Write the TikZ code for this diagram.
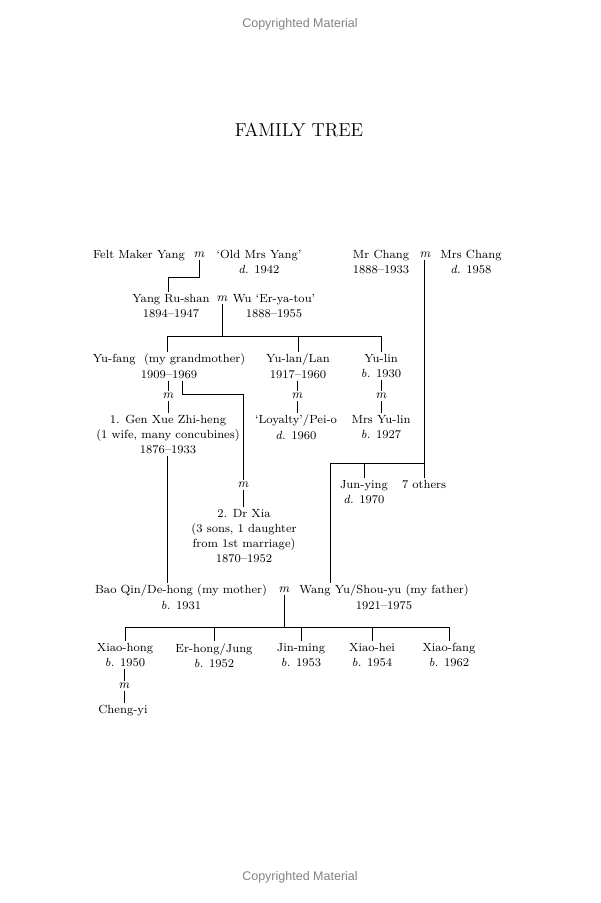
\documentclass[tikz,border=0pt]{standalone}
\usepackage{fontspec}
\newfontfamily\wmfont{Liberation Sans}
\usetikzlibrary{positioning}
\definecolor{wmgray}{RGB}{130,130,130}
\tikzset{pers/.style={anchor=north,align=center,inner sep=1.5pt},marr/.style={inner sep=1.5pt,font=\fontsize{9}{10}\selectfont\itshape}}

\begin{document}
\begin{tikzpicture}[x=0.025cm,y=-0.025cm,font=\fontsize{8.4}{10.7}\selectfont,line width=0.6pt]
\useasboundingbox (0,0) rectangle (600,903);
% --- page furniture
\node[font=\wmfont\fontsize{8.9}{10}\selectfont,text=wmgray] (cpt) at (300,24) {Copyrighted Material};
\node[font=\wmfont\fontsize{8.9}{10}\selectfont,text=wmgray] (cpb) at (300,877) {Copyrighted Material};
\node[font=\fontsize{13.3}{16}\selectfont] (title) at (299,130) {FAMILY TREE};
% --- grandparents' parents
\node[pers] (fmy) at (139,247.6) {Felt Maker Yang};
\node[marr] (m1) at (199,255) {m};
\node[pers] (omy) at (259,247.6) {`Old Mrs Yang'\\\textit{d.} 1942};
\node[pers] (mch) at (381,247.6) {Mr Chang\\1888--1933};
\node[marr] (m2) at (425,255) {m};
\node[pers] (mrsch) at (471,247.6) {Mrs Chang\\\textit{d.} 1958};
% --- Yang Ru-shan
\node[pers] (yrs) at (171,291.6) {Yang Ru-shan\\1894--1947};
\node[marr] (m3) at (222,299) {m};
\node[pers] (wu) at (274,291.6) {Wu `Er-ya-tou'\\1888--1955};
\coordinate (j1) at (168,277);
\draw (m1.south) |- (j1) -- (j1 |- yrs.north);
% --- his children
\node[pers] (yuf) at (169,351.6) {Yu-fang\ \ (my grandmother)\\1909--1969};
\node[pers] (yul) at (298,351.6) {Yu-lan/Lan\\1917--1960};
\node[pers] (yli) at (381,351.6) {Yu-lin\\\textit{b.} 1930};
\coordinate (j2) at (222,336);
\draw (m3.south) -- (j2);
\draw (j2 -| 167,0) -- (j2 -| yli.north);
\draw (j2 -| 167,0) -- (yuf.north -| 167,0);
\foreach \n in {yul,yli} \draw (j2 -| \n.north) -- (\n.north);
% --- their spouses
\node[marr] (m4) at (168,396) {m};
\node[marr] (m5) at (297,396) {m};
\node[marr] (m6) at (381,396) {m};
\node[pers] (gen) at (168,412.6) {1. Gen Xue Zhi-heng\\(1 wife, many concubines)\\1876--1933};
\node[pers] (loy) at (296,412.6) {`Loyalty'/Pei-o\\\textit{d.} 1960};
\node[pers] (myl) at (381,412.6) {Mrs Yu-lin\\\textit{b.} 1927};
\foreach \a/\m/\b in {yuf/m4/gen,yul/m5/loy,yli/m6/myl} \draw (\m |- \a.south) -- (\m.north) (\m.south) -- (\m |- \b.north);
\node[marr] (m7) at (243,485) {m};
\node[pers] (xia) at (244,506.6) {2. Dr Xia\\(3 sons, 1 daughter\\from 1st marriage)\\1870--1952};
\coordinate (j3) at (182,394);
\draw (j3 |- yuf.south) -- (j3) -| (m7.north);
\draw (m7.south) -- (m7.south |- xia.north);
% --- Chang children
\node[pers] (juy) at (364,477.6) {Jun-ying\\\textit{d.} 1970};
\node[pers] (oth) at (424,477.6) {7 others};
% --- parents
\node[pers] (bao) at (181,582.6) {Bao Qin/De-hong (my mother)\\\textit{b.} 1931};
\node[marr] (m8) at (284,590) {m};
\node[pers] (wyu) at (384,582.6) {Wang Yu/Shou-yu (my father)\\1921--1975};
\draw (gen.south -| 167,0) -- (bao.north -| 167,0);
\coordinate (j4) at (330,463);
\draw (m2.south -| oth.north) -- (oth.north);
\draw (j4) -- (j4 -| oth.north);
\draw (j4 -| juy.north) -- (juy.north);
\draw (j4) -- (j4 |- wyu.north);
% --- children
\node[pers] (xh) at (125,640.6) {Xiao-hong\\\textit{b.} 1950};
\node[pers] (eh) at (214,640.6) {Er-hong/Jung\\\textit{b.} 1952};
\node[pers] (jm) at (301,640.6) {Jin-ming\\\textit{b.} 1953};
\node[pers] (xhe) at (372,640.6) {Xiao-hei\\\textit{b.} 1954};
\node[pers] (xf) at (449,640.6) {Xiao-fang\\\textit{b.} 1962};
\coordinate (j5) at (284,627);
\draw (m8.south) -- (j5);
\draw (j5 -| xh.north) -- (j5 -| xf.north);
\foreach \n in {xh,eh,jm,xhe,xf} \draw (j5 -| \n.north) -- (\n.north);
\node[marr] (m9) at (124,686) {m};
\node[pers] (chy) at (123,702.6) {Cheng-yi};
\draw (m9 |- xh.south) -- (m9.north) (m9.south) -- (m9.south |- chy.north);
\end{tikzpicture}
\end{document}
